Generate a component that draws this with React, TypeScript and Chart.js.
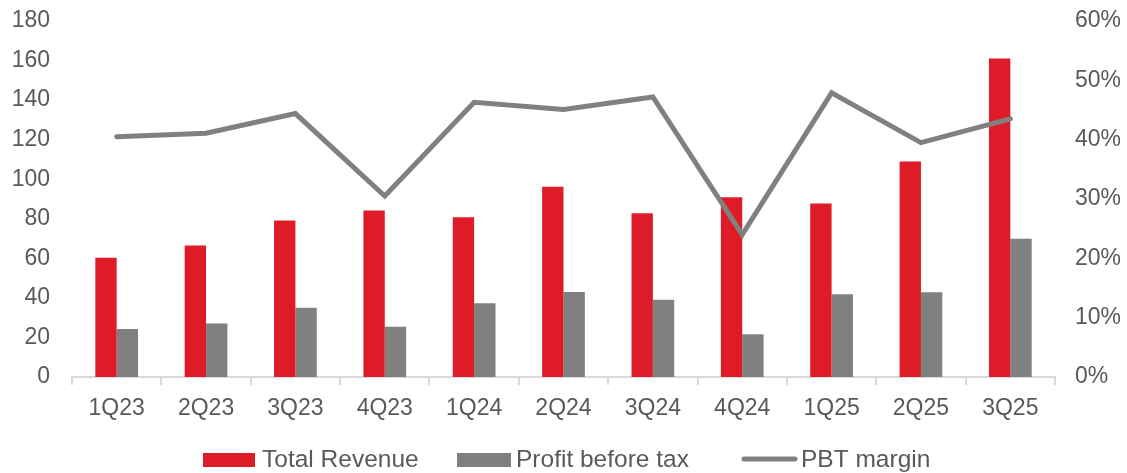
import React, { useEffect, useRef } from "react";
import { Chart, registerables } from "chart.js";

Chart.register(...registerables);

const categories = ["1Q23", "2Q23", "3Q23", "4Q23", "1Q24", "2Q24", "3Q24", "4Q24", "1Q25", "2Q25", "3Q25"];
const totalRevenue = [60.3, 66.5, 79.1, 84.2, 80.8, 96.2, 82.8, 90.9, 87.7, 108.9, 161];
const profitBeforeTax = [24.3, 27, 35, 25.4, 37.3, 43, 39, 21.6, 41.9, 42.9, 69.9];
const pbtMargin = [40.5, 41.1, 44.4, 30.5, 46.3, 45.1, 47.2, 24.0, 47.9, 39.5, 43.5];

const seriesNames = ["Total Revenue", "Profit before tax", "PBT margin"];

const RED = "#DD1C28";
const GRAY = "#808080";
const TEXT = "#595959";
const AXIS = "#D9D9D9";
const FONT = "'Liberation Sans', Arial, sans-serif";

const legendPlugin = {
  id: "customLegend",
  afterDraw(chart: any) {
    const ctx = chart.ctx;
    ctx.save();
    ctx.font = `24.5px ${FONT}`;
    ctx.fillStyle = TEXT;
    ctx.textBaseline = "middle";
    ctx.textAlign = "left";
    const y = 460;
    ctx.fillStyle = RED;
    ctx.fillRect(203, y - 7, 52, 14);
    ctx.fillStyle = TEXT;
    ctx.fillText(seriesNames[0], 262, y);
    ctx.fillStyle = GRAY;
    ctx.fillRect(457, y - 7, 54, 14);
    ctx.fillStyle = TEXT;
    ctx.fillText(seriesNames[1], 516, y);
    ctx.strokeStyle = GRAY;
    ctx.lineWidth = 5;
    ctx.lineCap = "round";
    ctx.beginPath();
    ctx.moveTo(744, y - 1);
    ctx.lineTo(795, y - 1);
    ctx.stroke();
    ctx.fillStyle = TEXT;
    ctx.fillText(seriesNames[2], 801, y);
    ctx.restore();
  },
};

export default function App() {
  const ref = useRef<HTMLCanvasElement>(null);
  useEffect(() => {
    if (!ref.current) return;
    const chart = new Chart(ref.current, {
      type: "bar",
      data: {
        labels: categories,
        datasets: [
          {
            type: "line",
            label: seriesNames[2],
            data: pbtMargin,
            yAxisID: "y1",
            borderColor: GRAY,
            backgroundColor: GRAY,
            borderWidth: 5,
            pointRadius: 0,
            borderCapStyle: "round",
            borderJoinStyle: "miter",
            tension: 0,
            order: 0,
          } as any,
          {
            type: "bar",
            label: seriesNames[0],
            data: totalRevenue,
            yAxisID: "y",
            backgroundColor: RED,
            categoryPercentage: 0.478,
            barPercentage: 1,
            order: 1,
          },
          {
            type: "bar",
            label: seriesNames[1],
            data: profitBeforeTax,
            yAxisID: "y",
            backgroundColor: GRAY,
            categoryPercentage: 0.478,
            barPercentage: 1,
            order: 1,
          },
        ],
      },
      options: {
        responsive: false,
        animation: false,
        layout: { padding: { top: 21, bottom: 50, left: 0, right: 0 } },
        plugins: {
          legend: { display: false },
          tooltip: { enabled: false },
        },
        scales: {
          x: {
            offset: true,
            grid: {
              display: true,
              drawOnChartArea: false,
              drawTicks: true,
              tickLength: 8,
              offset: true,
              color: AXIS,
              lineWidth: 2,
            },
            border: { display: true, color: AXIS, width: 2 },
            ticks: {
              color: TEXT,
              font: { family: FONT, size: 23 },
              padding: 10,
              maxRotation: 0,
            },
            afterFit(scale: any) {
              scale.height = 46;
            },
          },
          y: {
            position: "left",
            min: 0,
            max: 180,
            ticks: {
              stepSize: 20,
              color: TEXT,
              font: { family: FONT, size: 23 },
              padding: 22,
            },
            grid: { display: false, drawTicks: false },
            border: { display: false },
            afterFit(scale: any) {
              scale.width = 72;
              scale.paddingTop = 0;
              scale.paddingBottom = 0;
            },
          },
          y1: {
            position: "right",
            min: 0,
            max: 60,
            ticks: {
              stepSize: 10,
              color: TEXT,
              font: { family: FONT, size: 23 },
              padding: 20,
              callback: (v: any) => `${v}%`,
            },
            grid: { display: false, drawTicks: false },
            border: { display: false },
            afterFit(scale: any) {
              scale.width = 72;
              scale.paddingTop = 0;
              scale.paddingBottom = 0;
            },
          },
        },
      },
      plugins: [legendPlugin],
    });
    return () => chart.destroy();
  }, []);
  return (
    <div style={{ position: "absolute", left: 0, top: 0, width: 1127, height: 473, background: "#fff" }}>
      <canvas ref={ref} width={1127} height={473} />
    </div>
  );
}
